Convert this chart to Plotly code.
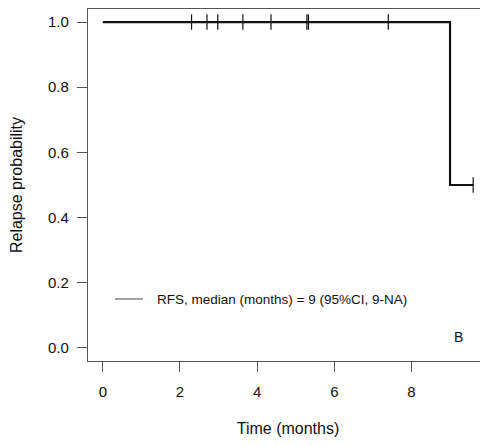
import plotly.graph_objects as go

# Kaplan-Meier step data
event_times = [0, 9, 9.6]
survival = [1.0, 0.5, 0.5]
censor_times = [2.3, 2.7, 2.98, 3.63, 4.36, 5.29, 5.33, 7.4, 9.6]
x_ticks = [0, 2, 4, 6, 8]
y_ticks = [0.0, 0.2, 0.4, 0.6, 0.8, 1.0]
legend_text = "RFS, median (months) = 9 (95%CI, 9-NA)"
panel_label = "B"

def surv_at(t):
    s = survival[0]
    for et, sv in zip(event_times, survival):
        if et <= t:
            s = sv
    return s

censor_y = [surv_at(t) for t in censor_times]

font = "Liberation Sans, Arial, sans-serif"
fig = go.Figure()
fig.add_trace(go.Scatter(x=event_times, y=survival, mode="lines",
                         line=dict(shape="hv", color="#111111", width=2.2),
                         showlegend=False, hoverinfo="skip"))
fig.add_trace(go.Scatter(x=censor_times, y=censor_y, mode="markers", cliponaxis=False,
                         marker=dict(symbol="line-ns", size=11,
                                     line=dict(color="#111111", width=1.2)),
                         showlegend=False, hoverinfo="skip"))

axis_common = dict(showgrid=False, zeroline=False, showline=True, linecolor="#555555",
                   linewidth=1.2, ticks="outside", ticklen=10, automargin=False,
                   tickcolor="#555555", tickwidth=1,
                   tickfont=dict(family=font, size=15, color="#111111"))

# page body has an 8px margin, so the figure is offset by (8, 8)
PW, PH = 400, 352
fig.update_layout(
    width=480, height=438,
    margin=dict(l=80, r=0, t=1, b=85),
    plot_bgcolor="white", paper_bgcolor="white",
    xaxis=dict(range=[-0.384, 9.984], tickvals=x_ticks, mirror=True,
               ticktext=[str(v) for v in x_ticks],
               title=dict(text="Time (months)", font=dict(family=font, size=16, color="#111111"),
                          standoff=23),
               ticklabelstandoff=7, **axis_common),
    yaxis=dict(range=[-0.04, 1.04], tickvals=y_ticks, mirror=False,
               ticktext=[f"{v:.1f}" for v in y_ticks],
               title=dict(text="Relapse probability", font=dict(family=font, size=16, color="#111111"),
                          standoff=25),
               ticklabelstandoff=5, **axis_common),
    font=dict(family=font, size=13, color="#111111"),
)

fig.add_shape(type="line", xref="paper", yref="paper",
              x0=(115 - 88) / PW, x1=(143 - 88) / PW,
              y0=(361 - 299) / PH, y1=(361 - 299) / PH,
              line=dict(color="#444444", width=1))
fig.add_annotation(xref="paper", yref="paper", x=(155 - 88) / PW, y=(361 - 299) / PH,
                   text=legend_text, showarrow=False, xanchor="left", yanchor="middle",
                   font=dict(family=font, size=13.5, color="#111111"))
fig.add_annotation(xref="paper", yref="paper", x=(458 - 88) / PW, y=(361 - 337) / PH,
                   text=panel_label, showarrow=False, xanchor="center", yanchor="middle",
                   font=dict(family=font, size=14, color="#111111"))

fig.write_html("out.html")
